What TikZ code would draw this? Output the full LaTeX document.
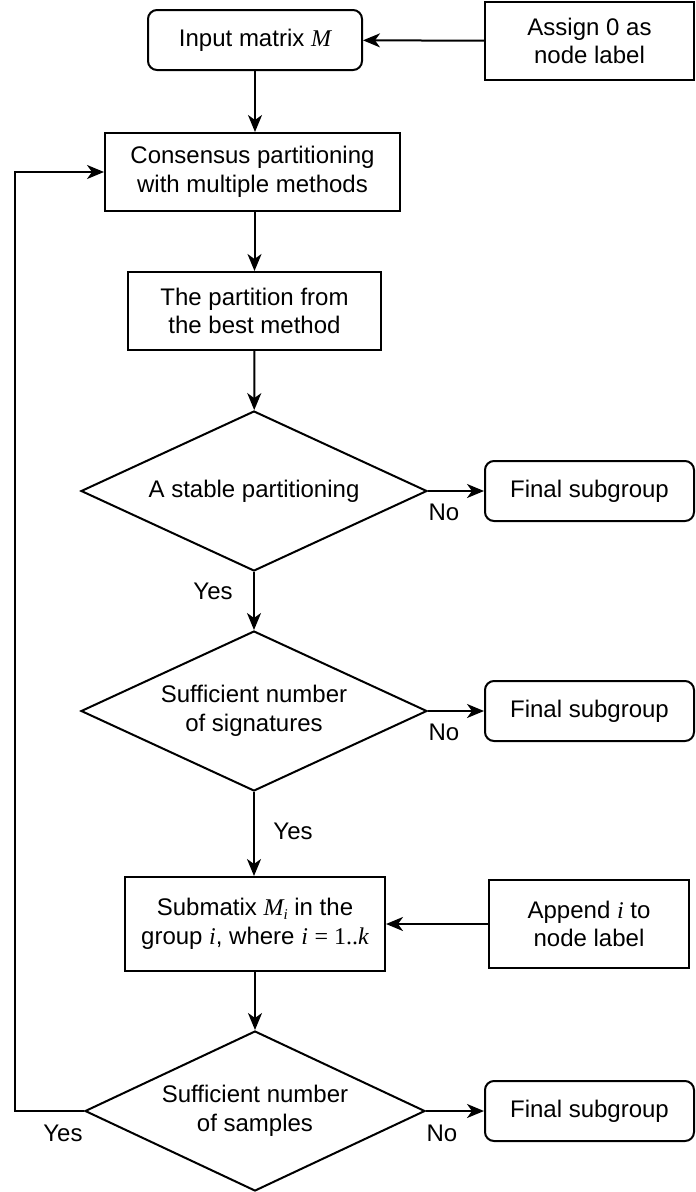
\documentclass[tikz,border=0pt]{standalone}
\usepackage{fontspec}
\setmainfont{Liberation Sans}
\newfontfamily\serifm{Liberation Serif}
\usetikzlibrary{shapes.geometric,arrows.meta}
\newcommand{\mv}[1]{{\serifm\itshape #1}}
\begin{document}
\begin{tikzpicture}[x=1pt, y=-1pt, line width=2pt,
		every node/.style={font=\fontsize{24}{28.8}\selectfont, align=center},
		box/.style={draw, inner sep=0pt},
		rbox/.style={draw, rounded corners=9pt, inner sep=0pt},
		test/.style={draw, diamond, aspect=2.175, inner sep=0pt, minimum width=346pt, minimum height=160pt},
		arr/.style={-{Stealth[length=17pt, width=14pt, inset=5pt]}}]
		\useasboundingbox (0,0) rectangle (696,1192);
		\node[rbox, minimum width=214pt, minimum height=60pt] (input) at (255, 40) {Input matrix \mv{M}};
		\node[box, minimum width=209pt, minimum height=78pt] (assign) at (589.5, 41) {Assign 0 as\\node label};
		\node[box, minimum width=295pt, minimum height=78pt] (consensus) at (252.5, 172) {Consensus partitioning\\with multiple methods};
		\node[box, minimum width=253pt, minimum height=78pt] (best) at (254.5, 311) {The partition from\\the best method};
		\node[test] (stable) at (254, 491) {A stable partitioning};
		\node[test] (signat) at (254, 711) {Sufficient number\\of signatures};
		\node[box, minimum width=260pt, minimum height=94pt] (submat) at (255, 924) {Submatix \mv{M}\raisebox{-0.3ex}{\fontsize{15}{15}\selectfont\mv{i}} in the\\group \mv{i}, where \mv{i} {\serifm = 1..\itshape k}};
		\node[box, minimum width=200pt, minimum height=88pt] (append) at (589, 924) {Append \mv{i} to\\node label};
		\node[test, minimum width=340pt] (samples) at (255, 1111) {Sufficient number\\of samples};
		\foreach \n/\y in {1/491, 2/711, 3/1111}
		{
			\node[rbox, minimum width=209pt, minimum height=60pt] (final\n) at (589.5, \y) {Final subgroup};
		}
		% yes / no
		\node (no1) at (444, 512) {No};
		\node (yes1) at (213, 591) {Yes};
		\node (no2) at (444, 732) {No};
		\node (yes2) at (293, 831) {Yes};
		\node (yes3) at (63, 1133) {Yes};
		\node (no3) at (442, 1133) {No};
		\draw[arr] (assign)--(input);
		\draw[arr] (input)--(input |- consensus.north);
		\draw[arr] (consensus.south -| best)--(best);
		\draw[arr] (best)--(stable);
		\draw[arr] (stable)--(final1);
		\draw[arr] (stable)--(signat);
		\draw[arr] (signat)--(final2);
		\draw[arr] (signat)--(signat |- submat.north);
		\draw[arr] (append)--(submat);
		\draw[arr] (submat.south -| samples)--(samples);
		\draw[arr] (samples)--(final3);
		\draw[arr] (samples.west)--(15, 1111)--(15, 172)--(consensus.west);
		\end{tikzpicture}
\end{document}
